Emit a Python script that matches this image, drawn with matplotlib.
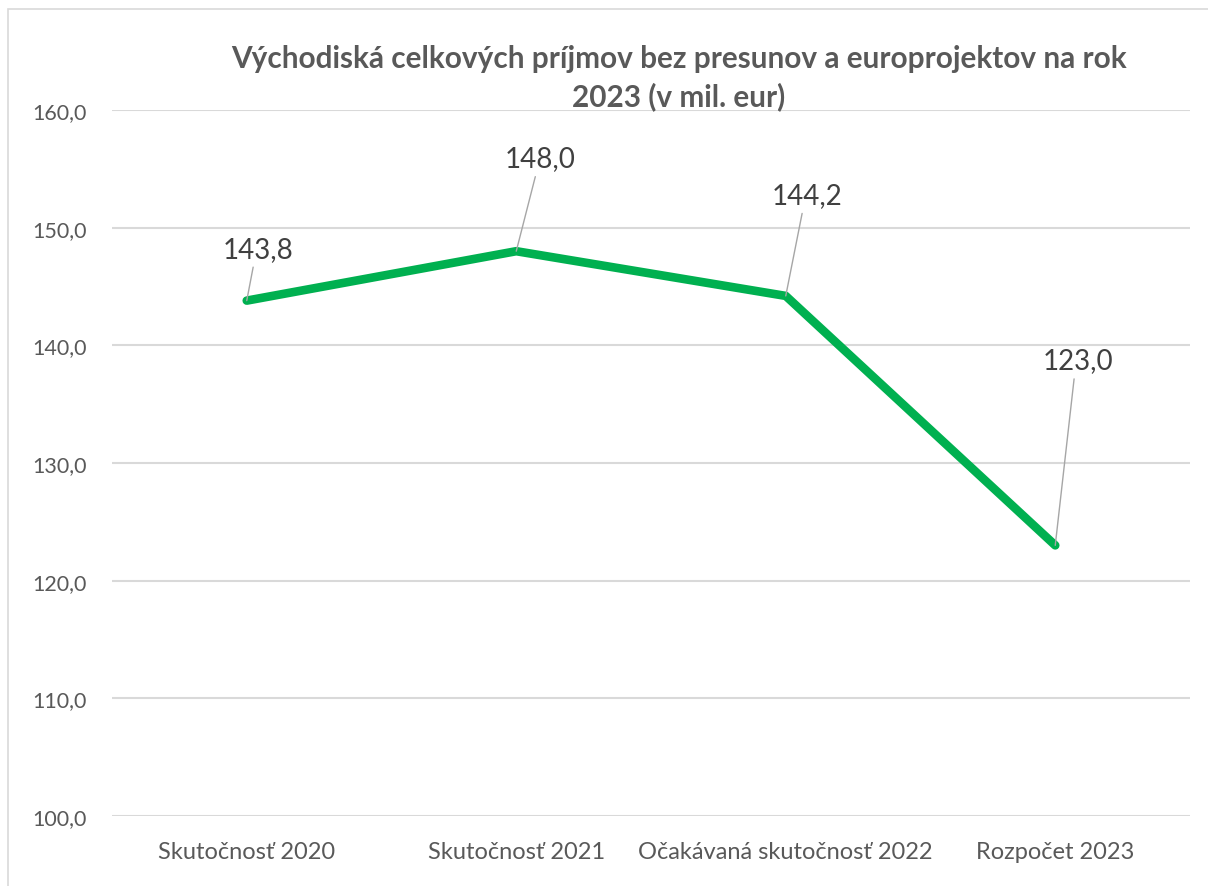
#!/usr/bin/env python3

import matplotlib
matplotlib.use("Agg")
import matplotlib.pyplot as plt
from matplotlib.patches import Rectangle


categories = ["Skutočnosť 2020", "Skutočnosť 2021", "Očakávaná skutočnosť 2022", "Rozpočet 2023"]
values = [143.8, 148.0, 144.2, 123.0]
label_texts = ["143,8", "148,0", "144,2", "123,0"]
# label offsets in pixels (dx, dy) from each point
label_offsets = [(11, 52), (24, 93), (21, 101), (23, 185)]
yticks = [100, 110, 120, 130, 140, 150, 160]
title = "Východiská celkových príjmov bez presunov a europrojektov na rok\n2023 (v mil. eur)"

GREEN = "#00B050"
GRID = "#D9D9D9"
TICK = "#595959"
LABEL = "#404040"


def fmt(v: float) -> str:
    return f"{v:.1f}".replace(".", ",")


def main() -> None:
    plt.rcParams["font.family"] = ["Lato", "DejaVu Sans"]

    W, H = 1208, 887
    fig = plt.figure(figsize=(W / 100, H / 100), dpi=100)
    ax = fig.add_axes([112 / W, 1 - 817 / H, (1190 - 112) / W, (817 - 111) / H])

    # outer chart frame
    fig.patches.append(Rectangle((8 / W, -0.1), 1.2, 1 - 10 / H + 0.1, transform=fig.transFigure,
                                 fill=False, edgecolor=GRID, linewidth=1.2))

    xs = [i + 0.5 for i in range(len(categories))]
    ax.plot(xs, values, color=GREEN, linewidth=6.2, solid_capstyle="round", solid_joinstyle="round", zorder=3)

    for x, v, txt, (dx, dy) in zip(xs, values, label_texts, label_offsets):
        ax.annotate(txt, xy=(x, v), xytext=(dx, dy), textcoords="offset pixels",
                    ha="center", va="center", fontsize=20, color=LABEL,
                    arrowprops=dict(arrowstyle="-", color="#A6A6A6", linewidth=1.0,
                                    relpos=(0.45, 0.0), shrinkA=2, shrinkB=0),
                    zorder=4)

    ax.set_xlim(0, len(categories))
    ax.set_ylim(100, 160)
    ax.set_yticks(yticks)
    ax.set_yticklabels([fmt(t) for t in yticks])
    ax.set_xticks(xs)
    ax.set_xticklabels(categories)
    ax.tick_params(axis="both", length=0, labelcolor=TICK)
    ax.tick_params(axis="y", pad=18, labelsize=15.5)
    ax.tick_params(axis="x", pad=18, labelsize=17)

    ax.grid(True, axis="y", color=GRID, linewidth=1.5)
    ax.set_axisbelow(True)
    for s in ax.spines.values():
        s.set_visible(False)

    fig.text(679 / W, 1 - 78 / H, title, ha="center", va="center", fontsize=21.4,
             fontweight="bold", color=TICK, linespacing=1.35)

    fig.savefig("out.png", dpi=100)


if __name__ == "__main__":
    main()
